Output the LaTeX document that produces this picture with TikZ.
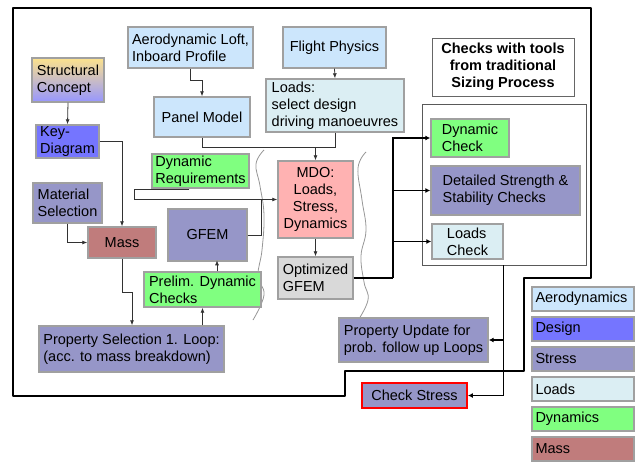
\documentclass[tikz,border=0pt]{standalone}
\usepackage{fontspec}
\setmainfont{Liberation Sans}
\usetikzlibrary{arrows.meta,calc}
\definecolor{cAero}{RGB}{204,230,252}
\definecolor{cDesign}{RGB}{117,117,255}
\definecolor{cStress}{RGB}{150,150,200}
\definecolor{cLoads}{RGB}{219,238,243}
\definecolor{cDyn}{RGB}{128,255,128}
\definecolor{cMass}{RGB}{192,124,124}
\definecolor{cMDO}{RGB}{255,178,178}
\definecolor{cOpt}{RGB}{217,217,217}
\definecolor{cBorder}{RGB}{160,160,160}
\definecolor{cLine}{RGB}{50,50,50}
\definecolor{cWave}{RGB}{150,150,150}
\newcommand\boxfont{\fontsize{14.5}{17}\selectfont}
\tikzset{
  box/.style={draw=cBorder, line width=1.4pt, inner xsep=3pt, inner ysep=0pt,
    align=left, font=\boxfont},
  cbox/.style={box, align=center},
  legend/.style={box, minimum width=102pt, minimum height=24pt,
    text width=95pt, line width=1.6pt},
  conn/.style={draw=cLine, line width=0.8pt},
  carrow/.style={conn, -{Latex[length=5pt,width=4pt]}},
  flow/.style={draw=black, line width=1.8pt},
  farrow/.style={flow, -{Latex[length=5pt,width=5pt]}},
  wave/.style={draw=cWave, line width=0.8pt},
}
\begin{document}
\begin{tikzpicture}[x=1pt,y=-1pt]
\useasboundingbox (0,0) rectangle (639,461);

% outer frame of the sizing loop
\draw[line width=1.5pt, line join=round] (13,8) -- (591,8) -- (591,278) -- (524,278)
  -- (524,371) -- (345,371) -- (345,396) -- (13,396) -- cycle;

% brace-like separators
\draw[wave] plot[smooth, tension=0.7] coordinates {(264,150) (256,164) (260,186) (264,215) (262,250) (258,276) (264,295) (253,320)};
\draw[wave] plot[smooth, tension=0.7] coordinates {(366,152) (358,168) (362,200) (366,230) (361,256) (364,282) (368,300) (357,322)};

% design and analysis boxes
\node[box, fill=cAero, minimum width=125pt, minimum height=41pt] (aero) at (190.5,47.5) {Aerodynamic Loft,\\Inboard Profile};
\node[cbox, fill=cAero, minimum width=103pt, minimum height=41pt] (flight) at (334.5,47.5) {Flight Physics};
\node[box, top color={rgb,255:red,252;green,226;blue,140}, bottom color={rgb,255:red,150;green,150;blue,255},
  minimum width=72pt, minimum height=44pt] (struct) at (68,80) {Structural\\Concept};
\node[box, fill=cDesign, minimum width=63pt, minimum height=33pt] (key) at (67.5,141.5) {Key-\\Diagram};
\node[cbox, fill=cAero, minimum width=96pt, minimum height=40pt] (panel) at (202,117) {Panel Model};
\node[box, fill=cLoads, minimum width=138pt, minimum height=53pt] (loads) at (335,105.5) {Loads:\\select design\\driving manoeuvres};
\node[box, fill=cDyn, minimum width=97pt, minimum height=34pt] (dynreq) at (200.5,171) {Dynamic\\Requirements};
\node[box, fill=cStress, minimum width=69pt, minimum height=40pt] (matsel) at (67.5,203) {Material\\Selection};
\node[cbox, fill=cMass, minimum width=68pt, minimum height=31pt] (mass) at (122,242.5) {Mass};
\node[cbox, fill=cStress, minimum width=79pt, minimum height=52pt] (gfem) at (207.5,235) {GFEM};
\node[box, fill=cDyn, minimum width=117pt, minimum height=35pt] (prelim) at (202.5,289.5) {Prelim. Dynamic\\Checks};
\node[box, fill=cStress, minimum width=185pt, minimum height=46pt] (propsel) at (131.5,349) {Property Selection 1. Loop:\\(acc. to mass breakdown)};
\node[cbox, fill=cMDO, minimum width=75pt, minimum height=77pt] (mdo) at (315.5,199.5) {MDO:\\Loads,\\Stress,\\Dynamics};
\node[box, fill=cOpt, minimum width=75pt, minimum height=42pt] (opt) at (315.5,278) {Optimized\\GFEM};

% traditional checks
\node[cbox, draw=black!60, line width=0.9pt, fill=white, font=\boxfont\bfseries,
  minimum width=142pt, minimum height=58pt] (checks) at (503,67) {Checks with tools\\from traditional\\Sizing Process};
\node[draw=black!65, line width=0.9pt, fill=white, minimum width=164pt, minimum height=161pt,
  inner sep=0pt] (cont) at (504,184.5) {};
\node[box, fill=cDyn, minimum width=78pt, minimum height=38pt] (dyncheck) at (470,138) {Dynamic\\Check};
\node[box, fill=cStress, minimum width=149pt, minimum height=49pt] (detail) at (505.5,190.5) {Detailed Strength \&\\Stability Checks};
\node[box, fill=cLoads, minimum width=71pt, minimum height=35pt] (ldcheck) at (467.5,241.5) {Loads\\Check};
\node[box, fill=cStress, minimum width=149pt, minimum height=44pt] (propupd) at (413.5,340) {Property Update for\\prob. follow up Loops};
\node[cbox, fill=cStress, draw=red, line width=1.8pt, minimum width=105pt, minimum height=25pt] (chkstress) at (414.5,395.5) {Check Stress};

% legend
\node[legend, fill=cAero] (lgAero) at (583,299) {Aerodynamics};
\node[legend, fill=cDesign] (lgDesign) at (583,329) {Design};
\node[legend, fill=cStress] (lgStress) at (583,359) {Stress};
\node[legend, fill=cLoads] (lgLoads) at (583,389) {Loads};
\node[legend, fill=cDyn] (lgDyn) at (583,419) {Dynamics};
\node[legend, fill=cMass] (lgMass) at (583,449) {Mass};

% thin connectors
\draw[carrow] (aero.south) -- ++(0,12) -| (panel.north);
\draw[carrow] (flight.south) -- (loads.north);
\draw[carrow] (struct.south) -- (key.north);
\draw[carrow] (key.east) -| (mass.north);
\draw[carrow] (matsel.south) |- (mass.west);
\coordinate (mtop) at ($(mdo.north)+(0,-13)$);
\draw[conn] (panel.south) |- (mtop);
\draw[conn] (loads.south) |- (mtop);
\draw[carrow] (mtop) -- (mdo.north);
\coordinate (dq) at ($(dynreq.south west)+(38,1)$);
\draw[carrow] (dq) -- ++(-55,0) |- (mdo.west);
\draw[conn] (gfem.east) -| ($(mdo.west)+(-16,0)$);
\draw[carrow] (mass.south) -- ++(0,34) -- ++(10,0) coordinate (mk) -- (mk |- propsel.north);
\draw[carrow] (prelim.south |- propsel.north) -- (prelim.south);
\draw[carrow] ($(prelim.north)+(14.5,0)$) -- ($(prelim.north)+(14.5,-11)$);
\draw[carrow] (mdo.south) -- (opt.north);

% thick flow to the checks
\draw[flow] (opt.east) -- ++(39,0) coordinate (fj);
\draw[farrow] (fj) |- (dyncheck.west);
\draw[farrow] (fj) |- (detail.west);
\draw[farrow] (fj) |- (ldcheck.west);
\coordinate (cs) at ($(cont.south west)+(82,0)$);
\draw[farrow] (cs) |- (chkstress.east);
\draw[farrow] (cs) |- (propupd.east);
\end{tikzpicture}
\end{document}
